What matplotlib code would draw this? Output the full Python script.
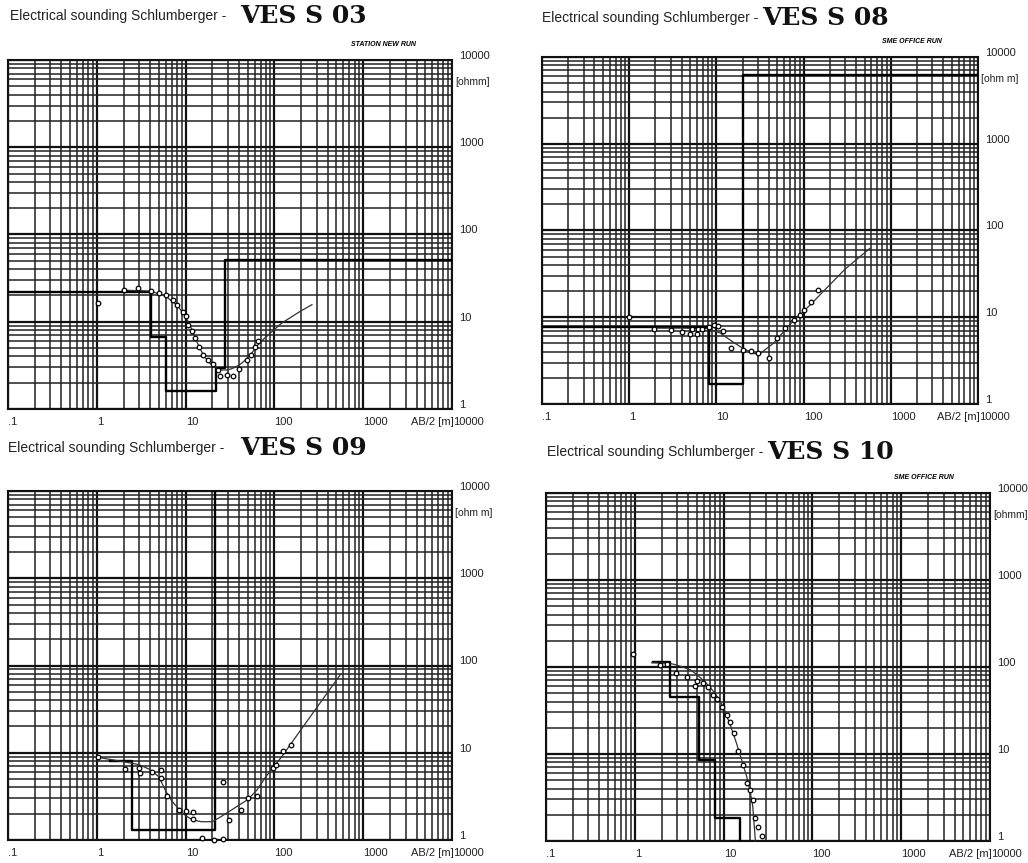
import numpy as np
import matplotlib
matplotlib.use('Agg')
import matplotlib.pyplot as plt
from matplotlib.ticker import LogLocator, NullFormatter

plt.rcParams['font.family'] = ['Liberation Sans', 'DejaVu Sans']

W, H = 1028, 863

# axis ticks / labels
x_ticks = [0.1, 1, 10, 100, 1000]
x_tick_labels = ['.1', '1', '10', '100', '1000']
y_ticks = [1, 10, 100, 1000, 10000]
y_tick_labels = ['1', '10', '100', '1000', '10000']

# VES S 03 : measured points, fitted curve, layer model
s03_ab = [1.02, 2.02, 2.93, 4.04, 5.06, 5.97, 7.16, 8.07, 9.27, 10.1, 10.7, 11.7, 12.8,
          14.2, 15.8, 18.0, 20.5, 23.4, 24.4, 29.0, 34.4, 40.3, 48.7, 54.1, 60.5, 65.9]
s03_rho = [16.4, 23.3, 24.4, 22.7, 21.4, 20.4, 17.9, 15.7, 13.1, 11.5, 9.24, 7.74, 6.49,
           5.12, 4.18, 3.66, 3.29, 2.81, 2.39, 2.46, 2.39, 2.86, 3.66, 4.18, 5.12, 5.94]
s03_fit_ab = [2, 4, 6, 8, 10, 12, 14, 16, 18, 21, 25, 30, 36, 42, 48, 55, 62, 70, 120, 194, 265]
s03_fit_rho = [23, 22.5, 19.5, 15.5, 11.5, 7.8, 5.3, 4.1, 3.5, 3.0, 2.8, 2.8, 3.0, 3.3,
               3.7, 4.3, 5.1, 5.9, 9.6, 13.1, 15.7]
s03_lay_ab = [0.1, 4.1, 4.1, 5.97, 5.97, 21.9, 21.9, 27.5, 27.5, 10000]
s03_lay_rho = [22, 22, 6.6, 6.6, 1.61, 1.61, 2.94, 2.94, 51.6, 51.6]

# VES S 08
s08_ab = [0.99, 1.92, 2.99, 4.06, 4.98, 5.29, 5.94, 6.15, 6.89, 8.22, 9.38, 10.5, 12.0,
          14.8, 20.3, 24.7, 30.0, 40.1, 49.9, 60.7, 77.6, 91, 100, 120, 147]
s08_rho = [10.1, 7.26, 7.13, 6.81, 6.41, 7.26, 6.41, 7.26, 7.3, 7.78, 8.1, 7.94, 7.0,
           4.39, 4.19, 4.11, 3.90, 3.36, 5.72, 7.46, 9.3, 10.6, 12.0, 15.0, 20.6]
s08_fit_ab = [1.9, 4, 8, 11, 15, 20, 27, 32, 45, 70, 120, 300, 577]
s08_fit_rho = [7.5, 7.5, 7.4, 6.6, 5.3, 4.4, 3.8, 3.85, 5.0, 8.3, 14, 36, 62.3]
s08_lay_ab = [0.1, 8.2, 8.2, 20.3, 20.3, 10000]
s08_lay_rho = [7.8, 7.8, 1.7, 1.7, 6200, 6200]

# VES S 09
s09_ab = [1.02, 2.08, 3.01, 3.07, 4.15, 5.25, 5.25, 6.12, 8.43, 10.0, 12.2, 12.2, 15.2,
          20.9, 26.2, 26.2, 31.0, 41.7, 50.8, 63.1, 95.5, 104, 126, 152]
s09_rho = [8.87, 6.46, 6.74, 5.9, 6.06, 6.34, 5.18, 3.22, 2.21, 2.17, 2.11, 1.73, 1.05,
           1.0, 1.02, 4.66, 1.69, 2.21, 3.05, 3.19, 6.63, 7.24, 10.6, 12.3]
s09_fit_ab = [1.0, 2.0, 3, 4, 5, 6, 7, 8.6, 10, 12, 15, 20, 25, 35, 50, 63, 80, 121, 200, 560]
s09_fit_rho = [8.9, 7.9, 7.3, 6.4, 5.3, 3.6, 2.8, 2.2, 1.9, 1.7, 1.62, 1.62, 1.85, 2.3,
               2.9, 3.7, 5.3, 9.0, 18.5, 80]
s09_lay_ab = [1.4, 2.47, 2.47, 21.4, 21.4]
s09_lay_rho = [8.1, 8.1, 1.3, 1.3, 20000]

# VES S 10
s10_ab = [0.96, 1.92, 2.32, 2.91, 3.9, 4.76, 4.97, 5.82, 6.73, 7.66, 8.49, 9.51, 10.8,
          11.8, 13.1, 14.6, 16.4, 18.2, 19.8, 21.3, 22.6, 24.6, 26.9]
s10_rho = [140, 105, 108, 84.6, 77.4, 60.5, 69.6, 66.1, 59.4, 47.6, 42.5, 35, 28,
           23.5, 17.3, 10.9, 7.47, 4.6, 3.86, 2.96, 1.82, 1.46, 1.14]
s10_fit_ab = [1.55, 2.5, 3, 4.2, 5, 6.4, 8, 9.9, 12, 14, 16, 18.2, 20, 21.3, 22.8]
s10_fit_rho = [112, 110, 105, 93, 82, 65, 50, 35, 21, 13.2, 8.5, 5.5, 3.6, 2.5, 1.0]
s10_lay_ab = [1.59, 2.49, 2.49, 5.33, 5.33, 7.9, 7.9, 15.2, 15.2]
s10_lay_rho = [115, 115, 45.6, 45.6, 8.53, 8.53, 1.82, 1.82, 0.9]

fig = plt.figure(figsize=(W / 100, H / 100), dpi=100)
fig.patch.set_facecolor('white')


def draw_panel(box, title_xy, ves_x, ves, ab, rho, fit_ab, fit_rho, lay_ab, lay_rho,
               unit, station):
    l, t, r, b = box
    ax = fig.add_axes([l / W, 1 - b / H, (r - l) / W, (b - t) / H])
    ax.set_xscale('log')
    ax.set_yscale('log')
    ax.set_xlim(0.1, 1e4)
    ax.set_ylim(1, 1e4)
    for axis in (ax.xaxis, ax.yaxis):
        axis.set_major_locator(LogLocator(10, numticks=10))
        axis.set_minor_locator(LogLocator(10, subs=np.arange(2, 10), numticks=30))
        axis.set_major_formatter(NullFormatter())
        axis.set_minor_formatter(NullFormatter())
    ax.grid(which='major', color='#111111', lw=1.6)
    ax.grid(which='minor', color='#222222', lw=1.1)
    ax.tick_params(which='both', length=0)
    for s in ax.spines.values():
        s.set_color('#111111')
        s.set_linewidth(1.5)

    ax.plot(lay_ab, lay_rho, color='black', lw=1.7, zorder=3)
    ax.plot(fit_ab, fit_rho, color='#333333', lw=0.9, zorder=4)
    ax.plot(ab, rho, ls='none', marker='o', ms=3.3, mfc='white', mec='black',
            mew=0.9, clip_on=False, zorder=5)

    # x labels, left aligned on the tick
    for v, lbl in zip(x_ticks, x_tick_labels):
        ax.annotate(lbl, xy=(v, 0), xycoords=('data', 'axes fraction'),
                    xytext=(0, -6), textcoords='offset points',
                    ha='left', va='top', fontsize=8, color='#222222')
    ax.annotate('10000', xy=(1, 0), xycoords='axes fraction', xytext=(1, -6),
                textcoords='offset points', ha='left', va='top', fontsize=8,
                color='#222222')
    ax.annotate('AB/2 [m]', xy=(1, 0), xycoords='axes fraction', xytext=(1, -6),
                textcoords='offset points', ha='right', va='top', fontsize=8,
                color='#222222')
    # y labels on the right
    for v, lbl in zip(y_ticks, y_tick_labels):
        ax.annotate(lbl, xy=(1, v), xycoords=('axes fraction', 'data'),
                    xytext=(5, 3), textcoords='offset points',
                    ha='left', va='center', fontsize=8, color='#222222')
    ax.annotate(unit, xy=(1, 1), xycoords='axes fraction', xytext=(2, -16),
                textcoords='offset points', ha='left', va='center', fontsize=7.5,
                color='#222222')
    if station:
        ax.annotate(station, xy=(1, 1), xycoords='axes fraction', xytext=(-26, 11),
                    textcoords='offset points', ha='right', va='center',
                    fontsize=5, fontweight='bold', fontstyle='italic')

    tx, ty = title_xy
    fig.text(tx / W, 1 - ty / H, 'Electrical sounding Schlumberger - ',
             ha='left', va='center', fontsize=10, color='#222222')
    fig.text(ves_x / W, 1 - ty / H, ves, ha='left', va='center', fontsize=18,
             fontweight='bold', family='DejaVu Serif', color='#111111')
    return ax


draw_panel((8, 60, 452, 409), (10, 16), 240, 'VES S 03',
           s03_ab, s03_rho, s03_fit_ab, s03_fit_rho, s03_lay_ab, s03_lay_rho,
           '[ohmm]', 'STATION NEW RUN')
draw_panel((542, 57, 978, 404), (542, 18), 762, 'VES S 08',
           s08_ab, s08_rho, s08_fit_ab, s08_fit_rho, s08_lay_ab, s08_lay_rho,
           '[ohm m]', 'SME OFFICE RUN')
draw_panel((8, 491, 452, 840), (8, 448), 240, 'VES S 09',
           s09_ab, s09_rho, s09_fit_ab, s09_fit_rho, s09_lay_ab, s09_lay_rho,
           '[ohm m]', None)
draw_panel((546, 493, 990, 841), (547, 452), 767, 'VES S 10',
           s10_ab, s10_rho, s10_fit_ab, s10_fit_rho, s10_lay_ab, s10_lay_rho,
           '[ohmm]', 'SME OFFICE RUN')

fig.savefig('out.png', dpi=100, facecolor='white')
